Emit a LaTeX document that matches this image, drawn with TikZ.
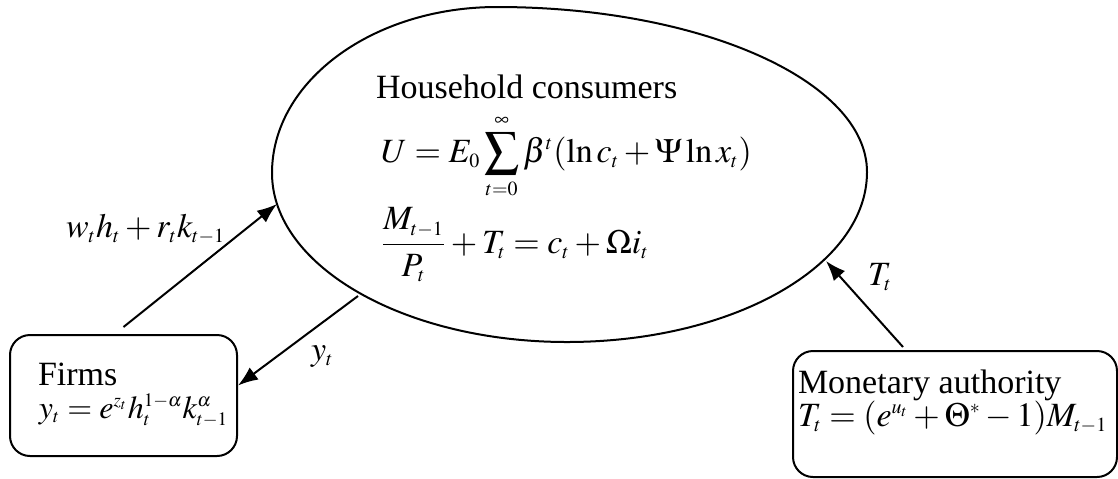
\documentclass[tikz,border=0pt]{standalone}
\usepackage{mathptmx}
\usepackage[no-math]{fontspec}
\setmainfont{Liberation Serif}
\DeclareMathSizes{17}{17}{10}{8}
\DeclareMathSizes{16}{16}{9.5}{7.5}
\usetikzlibrary{arrows.meta}

\begin{document}
\begin{tikzpicture}[x=0.5pt, y=-0.5pt, line width=1pt,
    flow/.style={-{Latex[length=10pt,width=7.5pt]}},
    box/.style={draw, rounded corners=10pt},
    txt/.style={anchor=base west, inner sep=0pt, font=\fontsize{17}{20}\selectfont}]
\useasboundingbox (0,0) rectangle (1118,478);
\draw (272,173) .. controls (272,81) and (373,7) .. (497,7)
    .. controls (701,7) and (867,81) .. (867,172)
    .. controls (867,266) and (733,342) .. (567,342)
    .. controls (404,342) and (272,266) .. cycle;
\coordinate (hhw) at (277,204);
\coordinate (hhs) at (358,296);
\coordinate (hhe) at (826,261);
\node[txt] (hhname) at (375,98) {Household consumers};
\node[txt] (hhutil) at (380,162) {$U = E_0\mathop{\vcenter{\hbox{\scalebox{1.45}{$\textstyle\sum$}}}}\limits_{t=0}^{\infty}\beta^t(\ln c_t + \Psi\ln x_t)$};
\node[txt] (hhbudget) at (380,253) {$\displaystyle\frac{M_{t-1}}{P_t} + T_t = c_t + \Omega i_t$};
\node[box, minimum width=113.5pt, minimum height=60.5pt] (firms) at (123.5,395.5) {};
\node[txt] (firmsname) at (37,385) {Firms};
\node[txt, font=\fontsize{16}{19}\selectfont] (firmsprod) at (38,418) {$y_t = e^{z_t}h_t^{1-\alpha}k_{t-1}^{\alpha}$};
\node[box, minimum width=162pt, minimum height=63pt] (mon) at (955,414) {};
\node[txt] (monname) at (797,393) {Monetary authority};
\node[txt] (monrule) at (797,426) {$T_t = (e^{u_t} + \Theta^{*} - 1)M_{t-1}$};
\draw[flow] ([yshift=3.5pt]firms.north) -- (hhw);
\draw[flow] (hhs) -- ([yshift=5pt]firms.east);
\draw[flow] ([xshift=-26pt,yshift=1.5pt]mon.north) -- (hhe);
\node[txt] (wage) at (65,237) {$w_t h_t + r_t k_{t-1}$};
\node[txt] (output) at (310,360) {$y_t$};
\node[txt] (transfer) at (867,285) {$T_t$};
\end{tikzpicture}
\end{document}
